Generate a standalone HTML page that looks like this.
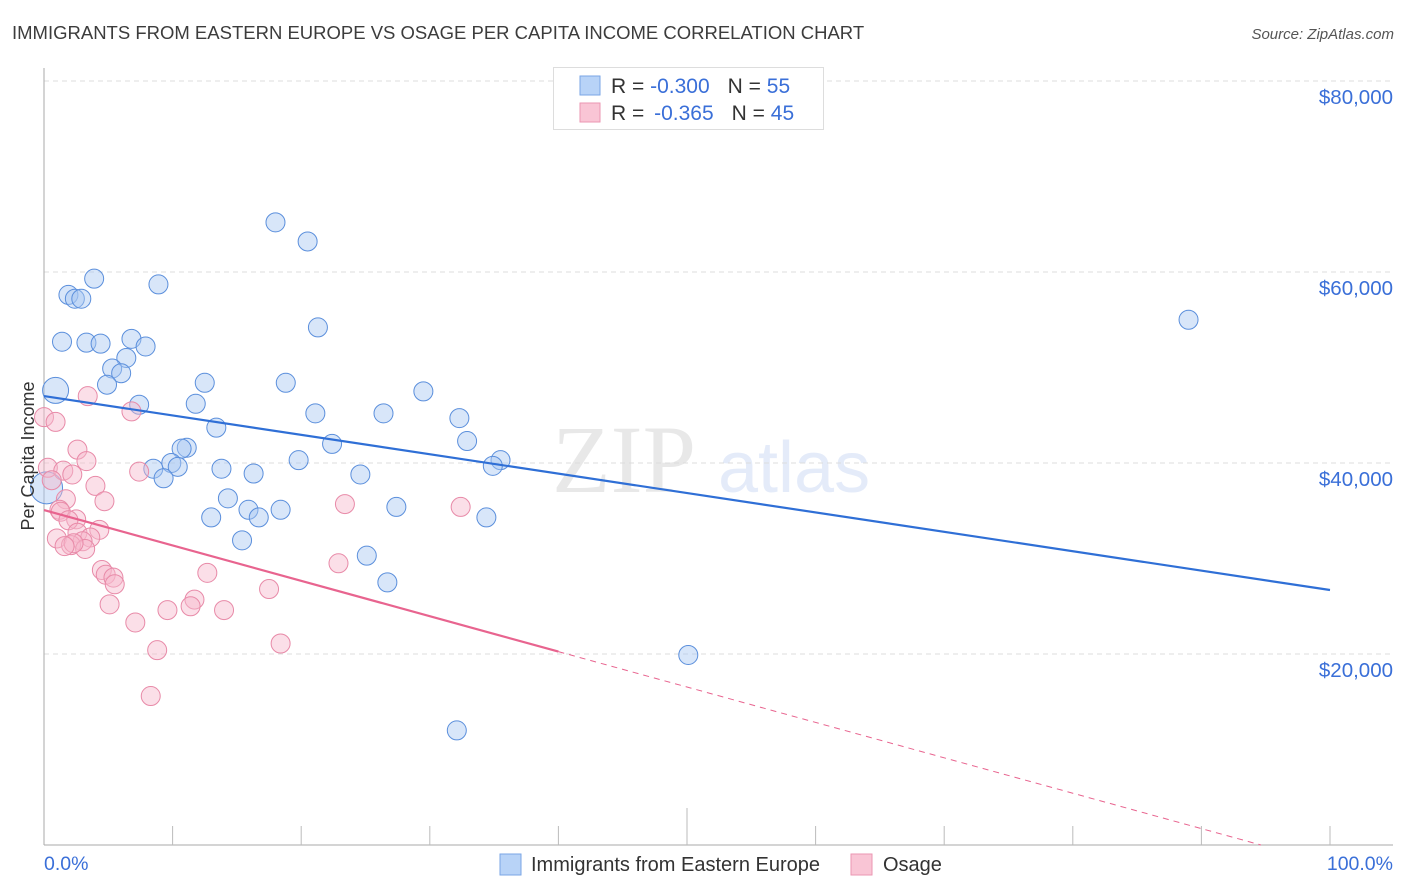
<!DOCTYPE html>
<html><head><meta charset="utf-8"><style>
body{margin:0;background:#fff;font-family:"Liberation Sans",sans-serif}
svg{display:block}
</style></head><body>
<svg id="chart" width="1406" height="892" xmlns="http://www.w3.org/2000/svg">
<text x="12" y="39" font-size="18.5" fill="#3c3c3c">IMMIGRANTS FROM EASTERN EUROPE VS OSAGE PER CAPITA INCOME CORRELATION CHART</text>
<text x="1394" y="39" font-size="15" fill="#555" font-style="italic" text-anchor="end">Source: ZipAtlas.com</text>
<g opacity="0.13">
<text x="552" y="492" font-size="96" font-family="Liberation Serif" fill="#555">ZIP</text>
<text x="718" y="492" font-size="72" fill="#3a6fd8">atlas</text>
</g>
<g id="grid"></g><g id="axes"></g><g id="pts"></g><g id="trend"></g>
<text transform="translate(34,456) rotate(-90)" font-size="18" fill="#333" text-anchor="middle">Per Capita Income</text>
<text x="44" y="870" font-size="19.5" fill="#3a6fd8">0.0%</text>
<text x="1393" y="870" font-size="19.5" fill="#3a6fd8" text-anchor="end">100.0%</text>
<g>
<rect x="553.5" y="67.5" width="270" height="62" fill="#fff" stroke="#ddd"/>
<rect x="580" y="76" width="20" height="19" fill="#b8d3f7" stroke="#7aa6e6"/>
<rect x="580" y="103" width="20" height="19" fill="#f9c5d5" stroke="#eb96b2"/>
<text x="611" y="93" font-size="21" fill="#333">R = <tspan fill="#3a6fd8">-0.300</tspan><tspan dx="18">N = </tspan><tspan fill="#3a6fd8">55</tspan></text>
<text x="611" y="120" font-size="21" fill="#333">R = <tspan fill="#3a6fd8" dx="4">-0.365</tspan><tspan dx="18">N = </tspan><tspan fill="#3a6fd8">45</tspan></text>
</g>
<g>
<rect x="500" y="854" width="21" height="21" fill="#b8d3f7" stroke="#7aa6e6"/>
<text x="531" y="871" font-size="20" fill="#333">Immigrants from Eastern Europe</text>
<rect x="851" y="854" width="21" height="21" fill="#f9c5d5" stroke="#eb96b2"/>
<text x="883" y="871" font-size="20" fill="#333">Osage</text>
</g>
</svg>
<script>
const yTicks=[20000,40000,60000,80000];
const yTickLabels=["$20,000","$40,000","$60,000","$80,000"];
const blueX=[18.0,20.5,3.9,8.9,1.9,2.4,2.9,21.3,89.0,1.4,3.3,4.4,6.8,7.9,6.4,5.3,6.0,0.9,4.9,12.5,18.8,29.5,7.4,11.8,21.1,26.4,32.3,13.4,22.4,32.9,11.1,10.7,19.8,35.5,34.9,9.9,10.4,8.5,13.8,16.3,24.6,9.3,0.2,14.3,27.4,15.9,18.4,13.0,16.7,34.4,15.4,25.1,26.7,50.1,32.1];
const blueY=[65.2,63.2,59.3,58.7,57.6,57.2,57.2,54.2,55.0,52.7,52.6,52.5,53.0,52.2,51.0,49.9,49.4,47.6,48.2,48.4,48.4,47.5,46.1,46.2,45.2,45.2,44.7,43.7,42.0,42.3,41.6,41.5,40.3,40.3,39.7,40.0,39.6,39.4,39.4,38.9,38.8,38.4,37.4,36.3,35.4,35.1,35.1,34.3,34.3,34.3,31.9,30.3,27.5,19.9,12.0];
const pinkX=[3.4,6.8,0,0.9,2.6,3.3,0.3,1.5,2.2,7.4,0.6,4.0,1.7,4.7,23.4,32.4,1.2,1.3,2.5,1.9,4.3,2.6,3.6,1.0,3.0,2.1,3.2,12.7,4.5,4.8,5.4,5.5,17.5,22.9,11.7,11.4,5.1,9.6,14.0,7.1,18.4,8.8,8.3,2.3,1.6];
const pinkY=[47.0,45.4,44.8,44.3,41.4,40.2,39.5,39.2,38.8,39.1,38.2,37.6,36.2,36.0,35.7,35.4,35.1,34.9,34.1,34.0,33.0,32.7,32.2,32.1,31.8,31.4,31.0,28.5,28.8,28.3,28.0,27.3,26.8,29.5,25.7,25.0,25.2,24.6,24.6,23.3,21.1,20.4,15.6,31.6,31.3];
const blueTrend=[47010,26700];
const pinkTrend=[35075,-1990];
const pinkSolidEnd=40;
const NS="http://www.w3.org/2000/svg";
const X0=44,X1=1330,Y0=845,PXK=191/20000;
const sx=v=>X0+(X1-X0)*v/100;
const sy=v=>Y0-v*PXK;
function mk(tag,attrs,parent){const e=document.createElementNS(NS,tag);for(const k in attrs)e.setAttribute(k,attrs[k]);document.getElementById(parent).appendChild(e);return e;}
yTicks.forEach((t,i)=>{
 const l=mk('line',{x1:X0,x2:1393,y1:sy(t),y2:sy(t),stroke:'#ddd','stroke-dasharray':'5,4'},'grid');
 
 
 const tx=mk('text',{x:1393,y:sy(t)+23,'font-size':20.5,fill:'#3a6fd8','text-anchor':'end'},'grid');
 tx.textContent=yTickLabels[i];
 
 
});
const ya=mk('line',{x1:X0,x2:X0,y1:68,y2:Y0,stroke:'#aaa'},'axes');


const xa=mk('line',{x1:X0,x2:1393,y1:Y0,y2:Y0,stroke:'#aaa'},'axes');


for(let i=1;i<=10;i++){
 const tk=mk('line',{x1:sx(i*10),x2:sx(i*10),y1:i==5?808:826,y2:Y0,stroke:'#bbb'},'axes');
 
 
}
function dots(xs,ys,fill,stroke,name){
 xs.forEach((x,i)=>{
  const r=(name=='blue-point'&&(i==17||i==42))?(i==42?16:13):9.5;
  const c=mk('circle',{cx:sx(x),cy:sy(ys[i]*1000),r:r,fill:fill,'fill-opacity':0.45,stroke:stroke,'stroke-width':1},'pts');
  
  
 });
}
dots(blueX,blueY,'#a9c8f2','#5b8fdc','blue-point');
dots(pinkX,pinkY,'#f7b8cb','#e88aa8','pink-point');
const bl=mk('line',{x1:sx(0),y1:sy(blueTrend[0]),x2:sx(100),y2:sy(blueTrend[1]),stroke:'#2f6fd6','stroke-width':2.2},'trend');


const pv=x=>pinkTrend[0]+(pinkTrend[1]-pinkTrend[0])*x/100;
const pl=mk('line',{x1:sx(0),y1:sy(pv(0)),x2:sx(pinkSolidEnd),y2:sy(pv(pinkSolidEnd)),stroke:'#e8648f','stroke-width':2.2},'trend');


const xz=100*pinkTrend[0]/(pinkTrend[0]-pinkTrend[1]);
const pd=mk('line',{x1:sx(pinkSolidEnd),y1:sy(pv(pinkSolidEnd)),x2:sx(xz),y2:sy(0),stroke:'#e8648f','stroke-width':1,'stroke-dasharray':'6,5'},'trend');


</script>
</body></html>
